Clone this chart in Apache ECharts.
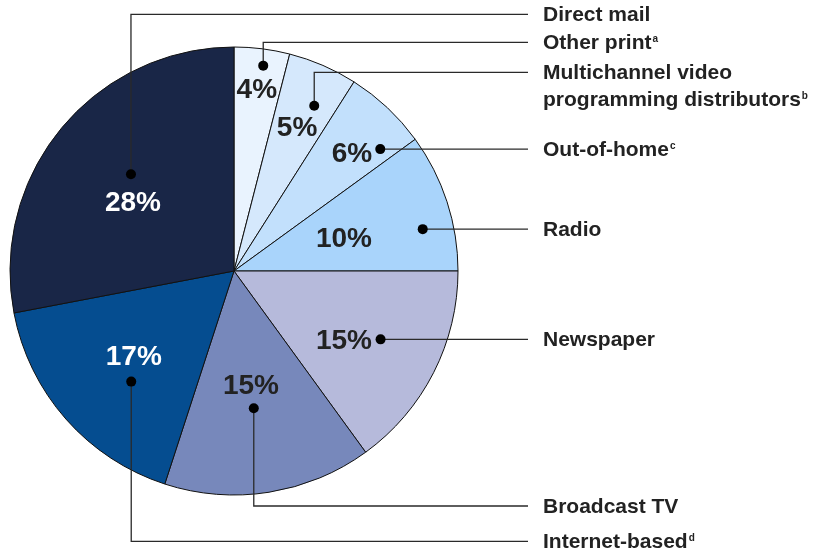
<!DOCTYPE html>
<html>
<head>
<meta charset="utf-8">
<script src="https://cdn.jsdelivr.net/npm/echarts@6/dist/echarts.min.js"></script>
<style>
html,body{margin:0;padding:0;background:#fff;}
#chart{width:815px;height:552px;}
</style>
</head>
<body>
<div id="chart"></div>
<script>
// ---- data (clockwise from 12 o'clock) ----
var categories = ['Other print', 'Multichannel video programming distributors', 'Out-of-home', 'Radio', 'Newspaper', 'Broadcast TV', 'Internet-based', 'Direct mail'];
var shares = [4, 5, 6, 10, 15, 15, 17, 28];
var footnotes = ['a', 'b', 'c', '', '', '', 'd', ''];
var labelLines = [['Other print'], ['Multichannel video', 'programming distributors'], ['Out-of-home'], ['Radio'], ['Newspaper'], ['Broadcast TV'], ['Internet-based'], ['Direct mail']];

// ---- styles ----
var colors = ['#e9f3fe', '#d5e8fc', '#c2e0fc', '#a9d4fb', '#b6badb', '#7788bb', '#054d90', '#192647'];
var pctColors = ['#222', '#222', '#222', '#222', '#222', '#222', '#fff', '#fff'];
// percent label placement: [angle offset from slice middle (deg), radius fraction]
var pctPlace = [[0, 0.814], [0.4, 0.698], [2.0, 0.742], [1.8, 0.511], [5.5, 0.582], [0.6, 0.519], [0.6, 0.591], [-5.6, 0.544]];
// marker dot placement: [angle offset (deg), radius fraction]
var dotPlace = [[0.9, 0.926], [2.5, 0.82], [7.0, 0.85], [5.5, 0.863], [-2.0, 0.722], [0.8, 0.619], [-5.7, 0.674], [3.6, 0.631]];
// leader elbow row (y) for labels that need a vertical segment; null = straight horizontal
var elbowRowY = [42.3, 72.3, null, null, null, 506, 541.3, 14.3];
var lineEndX = 528, labelX = 543, lineGap = 27;

var chart = echarts.init(document.getElementById('chart'), null, {renderer: 'canvas'});
var pieCx = 234, pieCy = 271, pieR = 224;
chart.setOption({
  animation: false,
  series: [{
    type: 'pie',
    center: [pieCx, pieCy],
    radius: pieR,
    startAngle: 90,
    clockwise: true,
    avoidLabelOverlap: false,
    label: {show: false},
    labelLine: {show: false},
    emphasis: {disabled: true},
    itemStyle: {borderColor: '#111', borderWidth: 1},
    data: categories.map(function (c, i) {
      return {name: c, value: shares[i], itemStyle: {color: colors[i]}};
    })
  }]
});

// read slice geometry from the library layout
function getLayouts() {
  var out = [];
  try {
    var data = chart.getModel().getSeriesByIndex(0).getData();
    for (var i = 0; i < shares.length; i++) out.push(data.getItemLayout(i));
    if (out[0] && isFinite(out[0].startAngle)) return out;
  } catch (e) {}
  out = [];
  var total = shares.reduce(function (a, b) { return a + b; }, 0);
  var a = -Math.PI / 2;
  for (var j = 0; j < shares.length; j++) {
    var e2 = a + shares[j] / total * Math.PI * 2;
    out.push({cx: pieCx, cy: pieCy, r: pieR, startAngle: a, endAngle: e2});
    a = e2;
  }
  return out;
}
var lays = getLayouts();
var D2R = Math.PI / 180;
function polar(L, place) {
  var mid = (L.startAngle + L.endAngle) / 2 + place[0] * D2R;
  return [L.cx + Math.cos(mid) * L.r * place[1], L.cy + Math.sin(mid) * L.r * place[1]];
}

var fontFamily = '"Liberation Sans", Arial, Helvetica, sans-serif';
var labelFont = 'bold 21px ' + fontFamily;
var supFont = 'bold 10px ' + fontFamily;
var measureCtx = document.createElement('canvas').getContext('2d');
function textWidth(t, f) { measureCtx.font = f; return measureCtx.measureText(t).width; }

var graphics = [];
lays.forEach(function (L, i) {
  var p = polar(L, pctPlace[i]);
  graphics.push({
    type: 'text', x: p[0], y: p[1], z: 10,
    style: {text: shares[i] + '%', fill: pctColors[i], font: 'bold 28px ' + fontFamily, textAlign: 'center', textVerticalAlign: 'middle'}
  });
  var d = polar(L, dotPlace[i]);
  var rowY = elbowRowY[i] == null ? d[1] : elbowRowY[i];
  var pts = elbowRowY[i] == null ? [[d[0], rowY], [lineEndX, rowY]] : [[d[0], d[1]], [d[0], rowY], [lineEndX, rowY]];
  graphics.push({
    type: 'polyline', z: 11,
    shape: {points: pts},
    style: {stroke: '#2a2a2a', lineWidth: 1.3, fill: null}
  });
  graphics.push({
    type: 'circle', z: 12,
    shape: {cx: d[0], cy: d[1], r: 5},
    style: {fill: '#000'}
  });
  // right-hand category label (one text per line)
  var lines = labelLines[i];
  lines.forEach(function (ln, k) {
    var ly = rowY + 1 + k * lineGap;
    graphics.push({
      type: 'text', x: labelX, y: ly, z: 10,
      style: {text: ln, font: labelFont, fill: '#222', textAlign: 'left', textVerticalAlign: 'middle'}
    });
    if (k === lines.length - 1 && footnotes[i]) {
      graphics.push({
        type: 'text', x: labelX + textWidth(ln, labelFont) + 1, y: ly - 4, z: 10,
        style: {text: footnotes[i], font: supFont, fill: '#222', textAlign: 'left', textVerticalAlign: 'middle'}
      });
    }
  });
});
chart.setOption({graphic: graphics});
</script>
</body>
</html>
